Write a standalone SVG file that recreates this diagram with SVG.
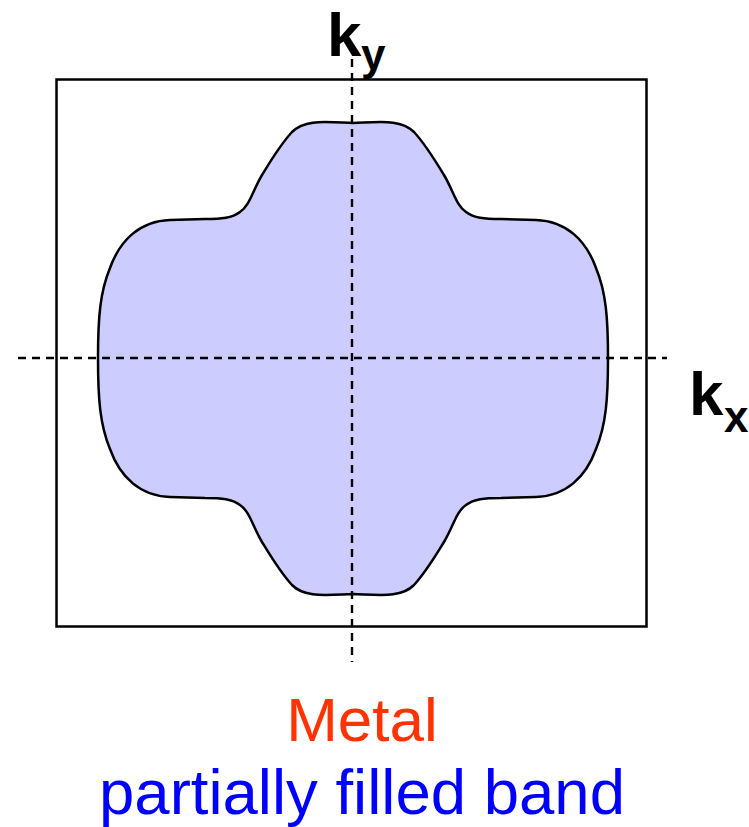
<svg xmlns="http://www.w3.org/2000/svg" width="749" height="827" viewBox="0 0 749 827">
<style>
.frame{fill:none;stroke:#000;stroke-width:2.5}
.band{fill:#ccccff;stroke:#000;stroke-width:2.5;stroke-linejoin:round}
.axis{fill:none;stroke:#000;stroke-width:2.4;stroke-dasharray:8,6}
.lbl{font-family:"Liberation Sans",Arial,sans-serif;font-weight:bold;fill:#000}
.cap{font-family:"Liberation Sans",Arial,sans-serif;text-anchor:middle}
</style>
<rect width="749" height="827" fill="#fff"/>
<g id="zone">
<rect class="frame" x="56.5" y="79.5" width="590" height="547"/>
</g>
<g id="fermi-surface">
<path class="band" d="M353,123 C325,122 305,119 292,132 C280,145 270,162 262,175 C252,192 250,205 240,212 C232,218 222,219 205,219 L170,220 C140,221 120,240 110,268 C100,292 98,318 98,358 C98,399 100,425 110,449 C120,477 140,496 170,497 L205,498 C222,498 232,499 240,505 C250,512 252,525 262,542 C270,555 280,572 292,585 C305,598 325,595 353,594 C381,595 401,598 414,585 C426,572 436,555 444,542 C454,525 456,512 466,505 C474,499 484,498 501,498 L536,497 C566,496 586,477 596,449 C606,425 608,399 608,358 C608,318 606,292 596,268 C586,240 566,221 536,220 L501,219 C484,219 474,218 466,212 C456,205 454,192 444,175 C436,162 426,145 414,132 C401,119 381,122 353,123 Z"/>
</g>
<g id="axes">
<line class="axis" x1="352" y1="45" x2="352" y2="662"/>
<line class="axis" x1="18" y1="358" x2="667" y2="358"/>
</g>
<g id="ky-label">
<text class="lbl" x="327" y="56" font-size="62">k</text>
<text class="lbl" x="361" y="70" font-size="44">y</text>
</g>
<g id="kx-label">
<text class="lbl" x="689" y="415" font-size="62">k</text>
<text class="lbl" x="724" y="432" font-size="44">x</text>
</g>
<g id="caption">
<text class="cap" x="362" y="741" font-size="62" fill="#ff3300">Metal</text>
<text class="cap" x="362" y="814" font-size="63.5" fill="#0000ff">partially filled band</text>
</g>
</svg>
